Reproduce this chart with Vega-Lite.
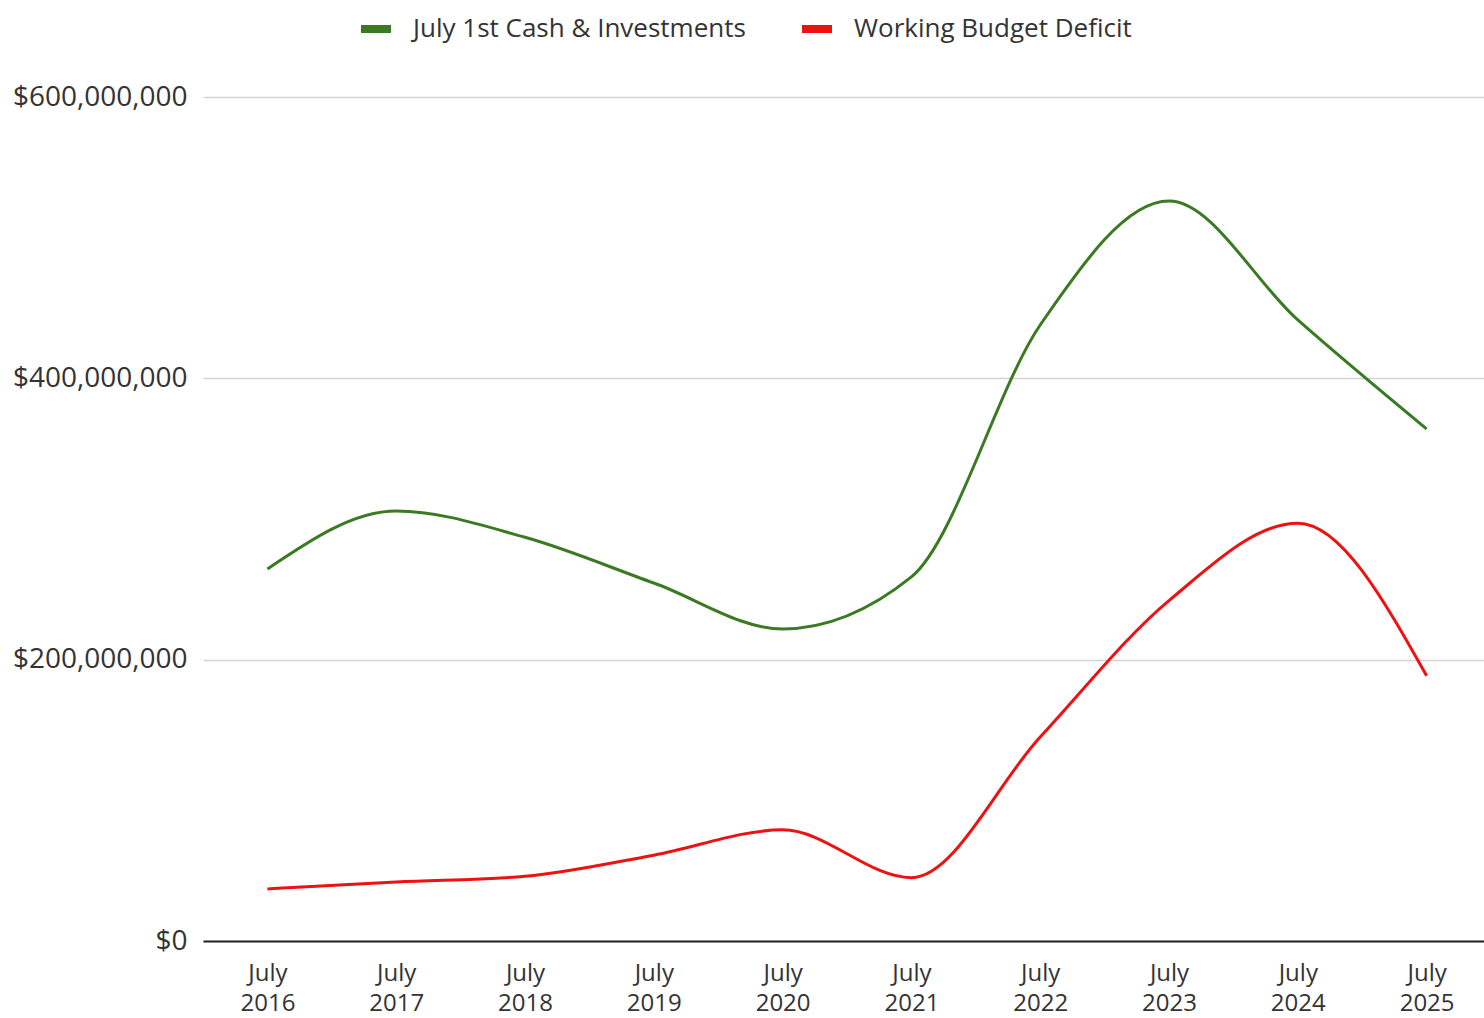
{
  "$schema": "https://vega.github.io/schema/vega-lite/v6.json",
  "width": 1288,
  "height": 844,
  "autosize": "none",
  "padding": {"left": 203, "top": 97, "right": 0, "bottom": 77},
  "background": "white",
  "config": {
    "font": "Open Sans",
    "view": {"stroke": null}
  },
  "data": {
    "values": [
      {"period": "July 2016", "series": "July 1st Cash & Investments", "value": 264500000},
      {"period": "July 2017", "series": "July 1st Cash & Investments", "value": 305700000},
      {"period": "July 2018", "series": "July 1st Cash & Investments", "value": 287000000},
      {"period": "July 2019", "series": "July 1st Cash & Investments", "value": 254500000},
      {"period": "July 2020", "series": "July 1st Cash & Investments", "value": 221800000},
      {"period": "July 2021", "series": "July 1st Cash & Investments", "value": 258800000},
      {"period": "July 2022", "series": "July 1st Cash & Investments", "value": 437900000},
      {"period": "July 2023", "series": "July 1st Cash & Investments", "value": 526000000},
      {"period": "July 2024", "series": "July 1st Cash & Investments", "value": 441500000},
      {"period": "July 2025", "series": "July 1st Cash & Investments", "value": 364000000},
      {"period": "July 2016", "series": "Working Budget Deficit", "value": 37000000},
      {"period": "July 2017", "series": "Working Budget Deficit", "value": 42000000},
      {"period": "July 2018", "series": "Working Budget Deficit", "value": 46000000},
      {"period": "July 2019", "series": "Working Budget Deficit", "value": 61000000},
      {"period": "July 2020", "series": "Working Budget Deficit", "value": 79000000},
      {"period": "July 2021", "series": "Working Budget Deficit", "value": 45000000},
      {"period": "July 2022", "series": "Working Budget Deficit", "value": 145000000},
      {"period": "July 2023", "series": "Working Budget Deficit", "value": 242000000},
      {"period": "July 2024", "series": "Working Budget Deficit", "value": 297000000},
      {"period": "July 2025", "series": "Working Budget Deficit", "value": 188500000}
    ]
  },
  "mark": {"type": "line", "interpolate": "monotone", "strokeWidth": 3},
  "encoding": {
    "x": {
      "field": "period",
      "type": "ordinal",
      "sort": null,
      "scale": {"padding": 0.5},
      "axis": {
        "title": null,
        "labelAngle": 0,
        "labelExpr": "split(datum.label, ' ')",
        "labelFontSize": 24,
        "labelColor": "#333333",
        "labelLineHeight": 30,
        "labelPadding": 20,
        "ticks": false,
        "domain": true,
        "domainColor": "#222222",
        "domainWidth": 2,
        "grid": false
      }
    },
    "y": {
      "field": "value",
      "type": "quantitative",
      "scale": {"domain": [0, 600000000], "nice": false},
      "axis": {
        "title": null,
        "values": [0, 200000000, 400000000, 600000000],
        "format": "$,.0f",
        "labelFontSize": 28,
        "labelColor": "#333333",
        "labelPadding": 16,
        "labelLimit": 0,
        "ticks": false,
        "domain": false,
        "grid": true,
        "gridColor": "#d4d4d4",
        "gridWidth": 1.5
      }
    },
    "color": {
      "field": "series",
      "type": "nominal",
      "scale": {
        "domain": ["July 1st Cash & Investments", "Working Budget Deficit"],
        "range": ["#3a7a22", "#ee1111"]
      },
      "legend": {
        "title": null,
        "orient": "none",
        "direction": "horizontal",
        "legendX": 154,
        "legendY": -87,
        "symbolType": "stroke",
        "symbolStrokeWidth": 8,
        "symbolSize": 900,
        "labelFontSize": 26,
        "labelLimit": 0,
        "labelColor": "#333333",
        "labelOffset": 18,
        "columnPadding": 40
      }
    }
  }
}
